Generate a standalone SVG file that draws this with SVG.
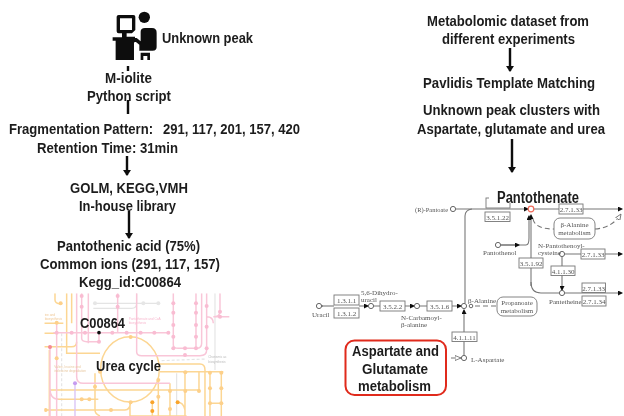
<svg xmlns="http://www.w3.org/2000/svg" width="624" height="416" viewBox="0 0 624 416">
<style>
text{font-family:"Liberation Sans",Arial,sans-serif}
.b{font-weight:bold;font-size:14px;fill:#1c1c1c}
.flow{stroke:#111;stroke-width:2.4;fill:none}
.p{fill:none;stroke:#777;stroke-width:1.1}
.d{fill:none;stroke:#777;stroke-width:1.1;stroke-dasharray:5 3}
.n{fill:#fff;stroke:#666;stroke-width:1}
.e{fill:#fff;stroke:#777;stroke-width:.9}
.s{font-family:"Liberation Serif",serif;font-size:7px;fill:#555}
.ec{font-family:"Liberation Serif",serif;font-size:7px;fill:#555;text-anchor:middle}
.mo{fill:none;stroke:#fcd693;stroke-width:4.500}
.mp{fill:none;stroke:#f9c6d8;stroke-width:4.500}
.mg{fill:none;stroke:#e4e4e4;stroke-width:3.500}
.dp{fill:#f9bcd2}.do{fill:#fdd08a}.dd{fill:#f9a42a}
.mt{font-size:9.5px}
</style>
<defs>
<marker id="fa" markerUnits="userSpaceOnUse" markerWidth="6" markerHeight="8" refX="5" refY="4" orient="auto"><path d="M0 0L6 4L0 8Z" fill="#111"/></marker>
<marker id="pa" markerUnits="userSpaceOnUse" markerWidth="5" markerHeight="5" refX="4" refY="2.500" orient="auto"><path d="M0 0L5 2.500L0 5Z" fill="#111"/></marker>
<marker id="oa" markerUnits="userSpaceOnUse" markerWidth="7" markerHeight="6" refX="6" refY="3" orient="auto"><path d="M0 .5L6 3L0 5.500Z" fill="#fff" stroke="#666" stroke-width=".8"/></marker>
<clipPath id="mc"><rect x="133" y="250" width="555" height="368"/></clipPath>
<filter id="soft" x="-5%" y="-5%" width="110%" height="110%"><feGaussianBlur stdDeviation="0.4"/></filter>
<filter id="softz" x="-5%" y="-5%" width="110%" height="110%"><feGaussianBlur stdDeviation="1.200"/></filter>
</defs>
<rect width="624" height="416" fill="#fff"/>

<g id="metabolic-map" filter="url(#softz)" transform="translate(0 210) scale(.3333)"><g clip-path="url(#mc)">
<path class="mg" d="M285 280H480M280 295H395Q410 295 410 280V250M645 250V480M530 490V618"/>
<path class="mg" stroke-dasharray="9 6" d="M185 370V618M485 452L620 447"/>
<path class="mo" d="M133 340H190M133 370H170M133 410H215Q230 410 230 395M200 250V430H300M165 250V270Q165 280 182 282M215 250V340M148 420V618"/>
<ellipse class="mo" cx="390" cy="478" rx="88" ry="98"/>
<path class="mo" d="M480 462H600Q615 462 615 480V618M480 485H670M630 488V618M664 488V618M630 580H665M150 540H600M170 568H295M133 600H375Q390 600 392 577M285 490V600Q285 612 300 618M475 510V618M510 520V618M555 487V618M597 485V545M390 578V618H560M457 577V618M533 577Q550 577 555 600"/>
<path class="mp" d="M230 250V500Q230 520 250 520H510M265 250V400M160 368H510M245 250V385Q245 395 260 395H300M297 368V395M353 250V370M520 250V405Q520 415 535 415H590Q605 415 605 400V250M588 250V415M620 250V410M410 250V425Q410 437 425 437H600Q620 437 620 420M660 250V305Q660 320 640 320H690M620 320Q640 320 640 340M150 410V618M170 340V618M150 535Q150 568 175 568"/>
<path d="M225 520V618" fill="none" stroke="#d9c2f5" stroke-width="4"/>
<g class="dp"><circle cx="245" cy="258" r="6"/><circle cx="245" cy="290" r="6"/><circle cx="353" cy="258" r="6"/><circle cx="353" cy="290" r="6"/><circle cx="520" cy="280" r="6"/><circle cx="520" cy="308" r="6"/><circle cx="520" cy="345" r="6"/><circle cx="520" cy="380" r="6"/><circle cx="520" cy="415" r="6"/><circle cx="555" cy="415" r="6"/><circle cx="555" cy="435" r="6"/><circle cx="588" cy="280" r="6"/><circle cx="588" cy="308" r="6"/><circle cx="588" cy="345" r="6"/><circle cx="588" cy="380" r="6"/><circle cx="588" cy="415" r="6"/><circle cx="620" cy="288" r="6"/><circle cx="620" cy="350" r="6"/><circle cx="620" cy="415" r="6"/><circle cx="660" cy="305" r="6"/><circle cx="660" cy="320" r="6"/><circle cx="170" cy="368" r="6"/><circle cx="215" cy="368" r="6"/><circle cx="255" cy="368" r="6"/><circle cx="337" cy="368" r="6"/><circle cx="380" cy="368" r="6"/><circle cx="422" cy="368" r="6"/><circle cx="463" cy="368" r="6"/><circle cx="505" cy="368" r="6"/><circle cx="297" cy="395" r="6"/></g>
<g fill="#e6e6e6"><circle cx="285" cy="280" r="6"/><circle cx="430" cy="280" r="6"/><circle cx="475" cy="280" r="6"/></g>
<g class="do"><circle cx="182" cy="280" r="6"/><circle cx="170" cy="338" r="6"/><circle cx="170" cy="445" r="6"/><circle cx="392" cy="381" r="6"/><circle cx="392" cy="577" r="6"/><circle cx="300" cy="485" r="6"/><circle cx="475" cy="510" r="6"/><circle cx="475" cy="560" r="6"/><circle cx="285" cy="530" r="6"/><circle cx="245" cy="568" r="6"/><circle cx="268" cy="568" r="6"/><circle cx="137" cy="600" r="6"/><circle cx="333" cy="600" r="6"/><circle cx="510" cy="543" r="6"/><circle cx="510" cy="597" r="6"/><circle cx="556" cy="487" r="6"/><circle cx="556" cy="543" r="6"/><circle cx="597" cy="543" r="6"/><circle cx="630" cy="488" r="6"/><circle cx="630" cy="535" r="6"/><circle cx="630" cy="580" r="6"/><circle cx="664" cy="488" r="6"/><circle cx="664" cy="535" r="6"/><circle cx="664" cy="580" r="6"/></g>
<g class="dd"><circle cx="457" cy="577" r="6"/><circle cx="457" cy="603" r="6"/><circle cx="533" cy="577" r="6"/></g>
<circle cx="150" cy="411" r="6" fill="#f58a94"/><circle cx="225" cy="520" r="6" fill="#c69cf0"/>
<g class="mt"><text x="134" y="317" fill="#f0c896">ine and</text><text x="134" y="329" fill="#f0c896">biosynthesis</text><text x="163" y="473" fill="#e8c8a0">Valine, leucine and</text><text x="163" y="485" fill="#e8c8a0">isoleucine degradation</text><text x="386" y="331" fill="#f7b9cf">Pantothenate and CoA</text><text x="386" y="343" fill="#f7b9cf">biosynthesis</text><text x="625" y="445" fill="#bbb">Chorismic ac</text><text x="625" y="458" fill="#bbb">biosynthesis</text></g>
</g><circle cx="297" cy="368" r="5.500" fill="#111"/></g>

<g id="pathway" filter="url(#soft)">
<g id="pathway-lines">
<path class="p" d="M456 209H528" marker-end="url(#pa)"/>
<path class="p" d="M534 209H622" marker-end="url(#pa)"/>
<path class="p" d="M465 303V216Q465 210 472 209"/>
<path class="p" d="M464 355V310" marker-end="url(#pa)"/>
<path class="p" d="M531 286V215" marker-end="url(#pa)"/>
<path class="p" d="M531 282Q531 293 541 293H559M565 293H622" marker-end="url(#pa)"/>
<path class="p" d="M501 245H526Q529 245 529 238V216" marker-end="url(#pa)"/>
<path class="p" d="M501 245H519" marker-end="url(#pa)"/>
<path class="p" d="M565 254H622" marker-end="url(#pa)"/>
<path class="p" d="M562 257V290" marker-end="url(#pa)"/>
<path class="d" d="M533 219Q535 229 554 229M595 229Q612 228 621 214" marker-end="url(#oa)"/>
<path class="p" d="M322 306H334" marker-start="url(#pa)"/>
<path class="p" d="M359 306H368" marker-end="url(#pa)"/>
<path class="p" d="M374 306H380M405 306H414" marker-end="url(#pa)"/>
<path class="p" d="M420 306H427M452 306H461" marker-end="url(#pa)"/>
<path class="d" d="M475 306H497"/>
<path class="d" d="M451 358H461" marker-end="url(#oa)"/>
</g>
<g id="n-pantoate"><circle class="n" cx="453" cy="209" r="2.600"/><text class="s" x="415" y="212" textLength="33" lengthAdjust="spacingAndGlyphs">(R)-Pantoate</text></g>
<g id="n-pantothenate-c"><circle cx="531" cy="209" r="2.800" fill="#fff" stroke="#ef6a5a" stroke-width="1.200"/></g>
<g id="n-pantothenol"><circle class="n" cx="498" cy="245" r="2.600"/><text class="s" x="483" y="255">Pantothenol</text></g>
<g id="n-cysteine"><circle class="n" cx="562" cy="254" r="2.600"/><text class="s" x="538" y="248">N-Pantothenoyl-</text><text class="s" x="538" y="255">cysteine</text></g>
<g id="n-pantetheine"><circle class="n" cx="562" cy="293" r="2.600"/><text class="s" x="549" y="304">Pantetheine</text></g>
<g id="n-uracil"><circle class="n" cx="319" cy="306" r="2.600"/><text class="s" x="312" y="317">Uracil</text></g>
<g id="n-dihydro"><circle class="n" cx="371" cy="306" r="2.600"/><text class="s" x="361" y="295">5,6-Dihydro-</text><text class="s" x="361" y="302">uracil</text></g>
<g id="n-carbamoyl"><circle class="n" cx="417" cy="306" r="2.600"/><text class="s" x="401" y="320">N-Carbamoyl-</text><text class="s" x="401" y="327">β-alanine</text></g>
<g id="n-alanine"><circle class="n" cx="464" cy="306" r="2.600"/><circle class="n" cx="471" cy="306" r="1.800"/><text class="s" x="468" y="303">β-Alanine</text></g>
<g id="n-aspartate"><circle class="n" cx="464" cy="358" r="2.600"/><text class="s" x="471" y="362">L-Aspartate</text></g>
<g id="e1"><rect class="e" x="486" y="198" width="24" height="10"/></g>
<g id="e35122"><rect class="e" x="485" y="212" width="25" height="9.500"/><text class="ec" x="497.500" y="219.500">3.5.1.22</text></g>
<g id="e27133a"><rect class="e" x="559" y="204" width="24" height="10"/><text class="ec" x="571" y="211.500">2.7.1.33</text></g>
<g id="e27133b"><rect class="e" x="581" y="249" width="24" height="10"/><text class="ec" x="593" y="256.500">2.7.1.33</text></g>
<g id="e41130"><rect class="e" x="551" y="266" width="24" height="9.500"/><text class="ec" x="563" y="273.500">4.1.1.30</text></g>
<g id="e35192"><rect class="e" x="519" y="258" width="24" height="10"/><text class="ec" x="531" y="265.500">3.5.1.92</text></g>
<g id="e27133c"><rect class="e" x="582" y="283" width="23.500" height="9.500"/><text class="ec" x="593.500" y="290.500">2.7.1.33</text></g>
<g id="e27134"><rect class="e" x="582" y="296" width="24" height="10"/><text class="ec" x="594" y="303.500">2.7.1.34</text></g>
<g id="e13111"><rect class="e" x="334" y="295" width="25" height="10"/><text class="ec" x="346.500" y="302.500">1.3.1.1</text></g>
<g id="e13112"><rect class="e" x="334" y="308" width="25" height="10"/><text class="ec" x="346.500" y="315.500">1.3.1.2</text></g>
<g id="e3522"><rect class="e" x="380" y="301" width="25" height="10"/><text class="ec" x="392.500" y="308.500">3.5.2.2</text></g>
<g id="e3516"><rect class="e" x="427" y="301" width="25" height="10"/><text class="ec" x="439.500" y="308.500">3.5.1.6</text></g>
<g id="e41111"><rect class="e" x="452" y="332" width="25" height="9.500"/><text class="ec" x="464.500" y="339.500">4.1.1.11</text></g>
<g id="m-alanine"><rect class="e" x="554" y="218" width="41" height="21" rx="6"/><text class="ec" x="574.500" y="227">β-Alanine</text><text class="ec" x="574.500" y="234.500">metabolism</text></g>
<g id="m-propanoate"><rect class="e" x="497" y="297" width="40" height="19" rx="6"/><text class="ec" x="517" y="305">Propanoate</text><text class="ec" x="517" y="312.500">metabolism</text></g>
<rect x="489" y="190" width="91" height="13" fill="#fff"/>
</g>

<g id="flow-connectors" filter="url(#soft)">
<path class="flow" d="M128 66V71M128 100V114"/>
<path class="flow" d="M127 156V175" marker-end="url(#fa)"/>
<path class="flow" d="M129 211V238" marker-end="url(#fa)"/>
<path class="flow" d="M510 48V71" marker-end="url(#fa)"/>
<path class="flow" d="M512 139V172" marker-end="url(#fa)"/>
</g>

<g id="person-icon" filter="url(#softz)" transform="scale(.3333)">
<path fill="#0c0c0c" fill-rule="evenodd" d="M350 50Q350 45 356 45H400Q406 45 406 50V90L396 100H380V110H405V125L402 128V180H347V122H338V112H366V100H356Q350 100 350 94ZM360 55V90H396V55Z"/>
<circle cx="433" cy="52" r="17" fill="#0c0c0c"/>
<path fill="#0c0c0c" d="M422 95Q422 84 435 84H456Q470 84 470 98V140Q470 152 458 152H418V134L408 126H392V114H410L422 124Z"/>
<path fill="#0c0c0c" d="M422 158H450V180H442V168H430V180H422Z"/>
</g>

<g id="t-unknown" filter="url(#soft)"><text class="b" x="162" y="43" textLength="91" lengthAdjust="spacingAndGlyphs">Unknown peak</text></g>
<g id="t-miolite" filter="url(#soft)"><text class="b" x="105" y="83" textLength="47" lengthAdjust="spacingAndGlyphs">M-iolite</text><text class="b" x="87" y="101" textLength="84" lengthAdjust="spacingAndGlyphs">Python script</text></g>
<g id="t-frag" filter="url(#soft)"><text class="b" x="9" y="134" textLength="144" lengthAdjust="spacingAndGlyphs">Fragmentation Pattern:</text><text class="b" x="163" y="134" textLength="137" lengthAdjust="spacingAndGlyphs">291, 117, 201, 157, 420</text><text class="b" x="37" y="153" textLength="141" lengthAdjust="spacingAndGlyphs">Retention Time: 31min</text></g>
<g id="t-golm" filter="url(#soft)"><text class="b" x="70" y="193" textLength="118" lengthAdjust="spacingAndGlyphs">GOLM, KEGG,VMH</text><text class="b" x="79" y="211" textLength="97" lengthAdjust="spacingAndGlyphs">In-house library</text></g>
<g id="t-panto" filter="url(#soft)"><text class="b" x="57" y="251" textLength="143" lengthAdjust="spacingAndGlyphs">Pantothenic acid (75%)</text><text class="b" x="40" y="269" textLength="180" lengthAdjust="spacingAndGlyphs">Common ions (291, 117, 157)</text><text class="b" x="79" y="287" textLength="102" lengthAdjust="spacingAndGlyphs">Kegg_id:C00864</text></g>
<g id="t-c00864" filter="url(#soft)"><text class="b" x="80" y="328" textLength="45" lengthAdjust="spacingAndGlyphs">C00864</text></g>
<g id="t-urea" filter="url(#soft)"><text class="b" x="96" y="371" textLength="65" lengthAdjust="spacingAndGlyphs">Urea cycle</text></g>
<g id="t-dataset" filter="url(#soft)"><text class="b" x="427" y="26" textLength="162" lengthAdjust="spacingAndGlyphs">Metabolomic dataset from</text><text class="b" x="442" y="44" textLength="133" lengthAdjust="spacingAndGlyphs">different experiments</text></g>
<g id="t-pavlidis" filter="url(#soft)"><text class="b" x="423" y="88" textLength="172" lengthAdjust="spacingAndGlyphs">Pavlidis Template Matching</text></g>
<g id="t-clusters" filter="url(#soft)"><text class="b" x="423" y="115" textLength="177" lengthAdjust="spacingAndGlyphs">Unknown peak clusters with</text><text class="b" x="417" y="134" textLength="188" lengthAdjust="spacingAndGlyphs">Aspartate, glutamate and urea</text></g>
<g id="t-pantothenate" filter="url(#soft)"><text class="b" style="font-size:16px" x="497" y="203" textLength="82" lengthAdjust="spacingAndGlyphs">Pantothenate</text></g>
<g id="n-aspglu" filter="url(#soft)"><rect x="345.500" y="340.500" width="100.500" height="54.500" rx="9" fill="#fff" stroke="#e02a1c" stroke-width="2"/><text class="b" x="352" y="356" textLength="87" lengthAdjust="spacingAndGlyphs">Aspartate and</text><text class="b" x="362" y="374" textLength="66" lengthAdjust="spacingAndGlyphs">Glutamate</text><text class="b" x="358" y="391" textLength="73" lengthAdjust="spacingAndGlyphs">metabolism</text></g>
</svg>
